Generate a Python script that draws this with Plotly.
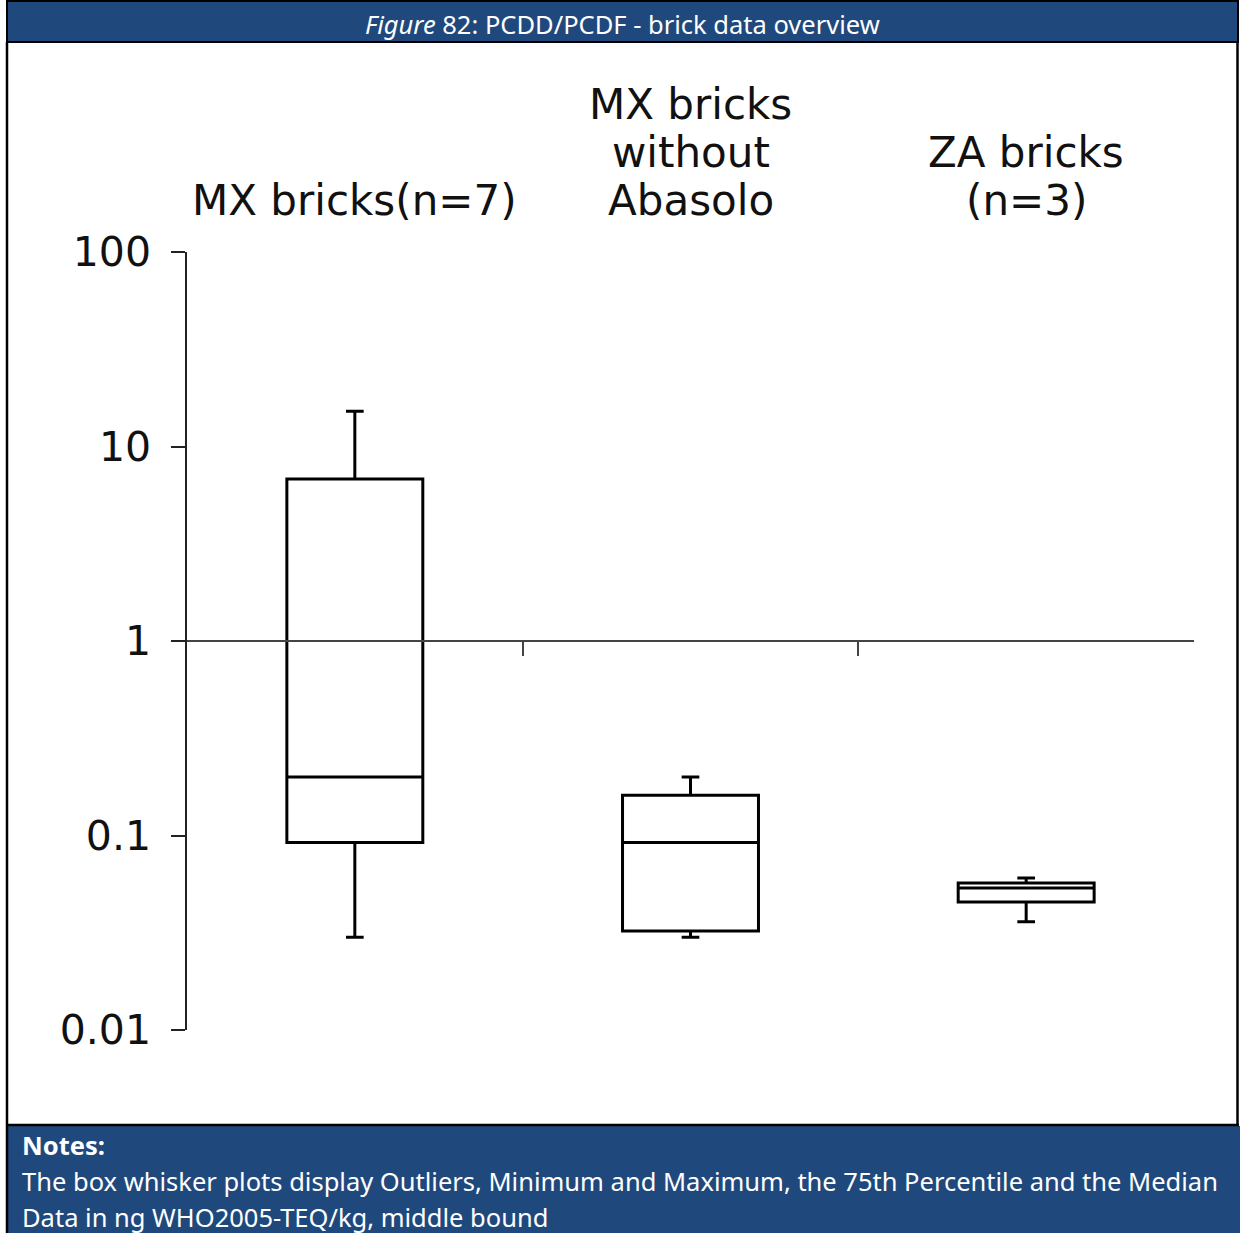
import plotly.graph_objects as go

# PCDD/PCDF concentrations in bricks (ng WHO2005-TEQ/kg), box-whisker summary per group
categories = [["MX bricks(n=7)"], ["MX bricks", "without", "Abasolo"], ["ZA bricks", "(n=3)"]]
minimum = [0.030, 0.030, 0.036]
q1 = [0.092, 0.0323, 0.0455]
median = [0.20, 0.092, 0.0537]
q3 = [6.8, 0.161, 0.057]
maximum = [15.2, 0.20, 0.0605]

y_ticks = [0.01, 0.1, 1, 10, 100]
y_ticktext = ["0.01", "0.1", "1", "10", "100"]

title_html = "<i>Figure</i> 82: PCDD/PCDF - brick data overview"
notes_head = "<b>Notes:</b>"
notes_lines = [
    "The box whisker plots display Outliers, Minimum and Maximum, the 75th Percentile and the Median",
    "Data in ng WHO2005-TEQ/kg, middle bound",
]

W, H = 1240, 1233
L, R, T, B = 187, 46, 252, 203
PW, PH = W - L - R, H - T - B
BLUE = "#1F497D"
CHART_FONT = "DejaVu Sans"
BOX_FONT = "Noto Sans"
LABEL_LINE = 48


def px(x):
    return (x - L) / PW


def py(y):
    return 1 - (y - T) / PH


fig = go.Figure()

for i, lines in enumerate(categories):
    fig.add_trace(go.Box(
        x=[i], q1=[q1[i]], median=[median[i]], q3=[q3[i]],
        lowerfence=[minimum[i]], upperfence=[maximum[i]],
        name=" ".join(lines), boxpoints=False, width=0.405, whiskerwidth=0.13,
        fillcolor="white", line=dict(color="black", width=3),
        showlegend=False, hoverinfo="y",
    ))

shapes = [
    # header band
    dict(type="rect", xref="paper", yref="paper", x0=px(7), x1=px(1238), y0=py(42), y1=py(1),
         fillcolor=BLUE, line=dict(color="black", width=2), layer="below"),
    # notes band
    dict(type="rect", xref="paper", yref="paper", x0=px(7), x1=px(1240), y0=py(1233), y1=py(1126),
         fillcolor=BLUE, line=dict(width=0), layer="below"),
    dict(type="line", xref="paper", yref="paper", x0=px(6), x1=px(1239), y0=py(1125), y1=py(1125),
         line=dict(color="black", width=2.5)),
    # frame sides
    dict(type="line", xref="paper", yref="paper", x0=px(7), x1=px(7), y0=py(42), y1=py(1233),
         line=dict(color="black", width=2.5)),
    dict(type="line", xref="paper", yref="paper", x0=px(1237.5), x1=px(1237.5), y0=py(42), y1=py(1125),
         line=dict(color="black", width=2.5)),
]

annotations = [
    dict(text=title_html, xref="paper", yref="paper", x=px(622), y=py(24),
         xanchor="center", yanchor="middle", showarrow=False,
         font=dict(family=BOX_FONT, size=25.5, color="white")),
    dict(text=notes_head, xref="paper", yref="paper", x=px(20), y=py(1145),
         xanchor="left", yanchor="middle", showarrow=False,
         font=dict(family=BOX_FONT, size=25.5, color="white")),
]
for k, line in enumerate(notes_lines):
    annotations.append(dict(text=line, xref="paper", yref="paper", x=px(20), y=py(1181 + 36 * k),
                            xanchor="left", yanchor="middle", showarrow=False,
                            font=dict(family=BOX_FONT, size=25.5, color="white")))

# group labels above the plot, one annotation per text line, bottom lines aligned
for i, lines in enumerate(categories):
    n = len(lines)
    for k, line in enumerate(lines):
        annotations.append(dict(text=line, xref="x", yref="paper", x=i, y=1,
                                xanchor="center", yanchor="bottom",
                                yshift=25 + LABEL_LINE * (n - 1 - k), showarrow=False,
                                font=dict(family=CHART_FONT, size=42, color="#111")))

fig.update_layout(
    width=W, height=H,
    margin=dict(l=L, r=R, t=T, b=B, autoexpand=False),
    paper_bgcolor="white", plot_bgcolor="white",
    shapes=shapes, annotations=annotations,
    xaxis=dict(range=[-0.5, 2.5], tickvals=[0.5, 1.5], showticklabels=False,
               ticks="outside", ticklen=14, tickwidth=2, tickcolor="#444",
               showline=True, linecolor="#444", linewidth=2,
               anchor="free", position=0.5, showgrid=False, zeroline=False),
    yaxis=dict(type="log", range=[-2, 2], tickvals=y_ticks, ticktext=y_ticktext,
               ticks="outside", ticklen=14, tickwidth=1.5, tickcolor="#222",
               showline=True, linecolor="#222", linewidth=1.5, showgrid=False,
               zeroline=False, ticklabelstandoff=12,
               tickfont=dict(family=CHART_FONT, size=41, color="#111")),
)

fig.write_html("out.html")
